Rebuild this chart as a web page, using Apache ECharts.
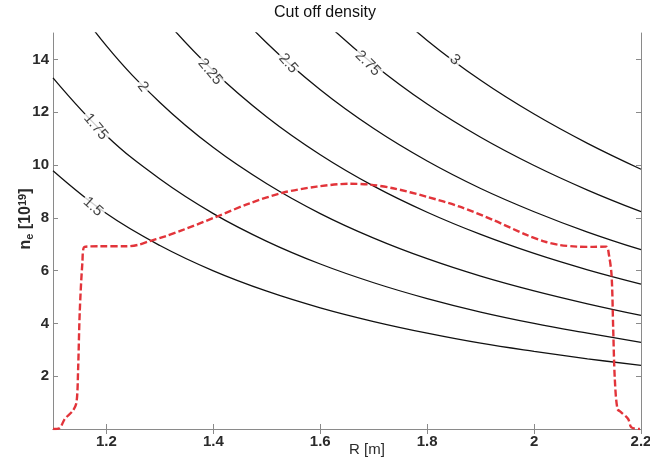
<!DOCTYPE html>
<html>
<head>
<meta charset="utf-8">
<script src="https://cdn.jsdelivr.net/npm/echarts@6/dist/echarts.min.js"></script>
<style>
  html, body { margin: 0; padding: 0; background: #fff; }
  #chart { width: 650px; height: 459px; }
</style>
</head>
<body>
<div id="chart"></div>
<script>
  // R grid [m] for the cut off curves
  var rValues = [1.1, 1.2, 1.3, 1.4, 1.5, 1.6, 1.7, 1.8, 1.9, 2.0, 2.1, 2.2];

  // cut off density curves, n_e [10^19]
  var curveLabels = ['1.5', '1.75', '2', '2.25', '2.5', '2.75', '3'];
  var curve150 = [9.78, 8.16, 6.95, 5.99, 5.22, 4.59, 4.07, 3.63, 3.25, 2.94, 2.66, 2.41];
  var curve175 = [13.3, 11.11, 9.47, 8.16, 7.11, 6.25, 5.54, 4.94, 4.43, 4.0, 3.63, 3.28];
  var curve200 = [17.27, 14.51, 12.37, 10.66, 9.29, 8.16, 7.23, 6.45, 5.79, 5.23, 4.74, 4.3];
  var curve225 = [21.98, 18.47, 15.74, 13.57, 11.82, 10.39, 9.2, 8.21, 7.37, 6.65, 6.03, 5.49];
  var curve250 = [27.19, 22.85, 19.47, 16.79, 14.62, 12.85, 11.38, 10.15, 9.11, 8.23, 7.46, 6.79];
  var curve275 = [32.98, 27.71, 23.61, 20.36, 17.73, 15.59, 13.81, 12.31, 11.05, 9.98, 9.05, 8.23];
  var curve300 = [null, null, null, null, 21.2, 18.63, 16.51, 14.72, 13.21, 11.93, 10.82, 9.84];

  // label anchor points on each curve [R, n]
  var labelR = [1.175, 1.18, 1.268, 1.394, 1.54, 1.689, 1.852];
  var labelN = [8.42, 11.45, 12.96, 13.53, 13.85, 13.85, 13.98];

  // density profile (red dashed)
  var profileR = [1.1, 1.112, 1.122, 1.137, 1.144, 1.147, 1.15, 1.155, 1.159, 1.187, 1.237, 1.26,
    1.281, 1.31, 1.343, 1.406, 1.468, 1.53, 1.593, 1.655, 1.692, 1.736, 1.799, 1.861, 1.923,
    1.986, 2.02, 2.048, 2.08, 2.11, 2.135, 2.14, 2.145, 2.148, 2.151, 2.156, 2.163, 2.176, 2.182, 2.198];
  var profileN = [0, 0.03, 0.38, 0.69, 1.01, 2.27, 4.42, 6.31, 6.9, 6.92, 6.92, 6.98,
    7.12, 7.3, 7.54, 8.04, 8.55, 8.95, 9.18, 9.29, 9.26, 9.12, 8.8, 8.42, 7.92,
    7.35, 7.1, 6.97, 6.91, 6.9, 6.91, 6.6, 5.81, 3.79, 1.89, 0.76, 0.63, 0.38, 0.06, 0];

  var xTicks = [1.2, 1.4, 1.6, 1.8, 2, 2.2];
  var yTicks = [2, 4, 6, 8, 10, 12, 14];

  var curves = [curve150, curve175, curve200, curve225, curve250, curve275, curve300];
  var labelRotate = [-42, -50, -52, -50, -48, -45, -43];

  var chart = echarts.init(document.getElementById('chart'));

  var fontName = 'Liberation Sans, Arial, sans-serif';
  var frameColor = '#8a8a8a';
  var tickFont = { color: '#2a2a2a', fontSize: 15, fontWeight: 'bold', fontFamily: fontName };

  var series = [];
  curves.forEach(function(c) {
    var pts = [];
    rValues.forEach(function(r, i) {
      if (c[i] != null) pts.push([r, c[i]]);
    });
    series.push({
      type: 'line',
      data: pts,
      smooth: 0.4,
      symbol: 'none',
      clip: true,
      lineStyle: { color: '#111', width: 1.3 },
      z: 2
    });
  });

  series.push({
    type: 'line',
    data: profileR.map(function(r, i) { return [r, profileN[i]]; }),
    symbol: 'none',
    smooth: 0.3,
    lineStyle: { color: '#e2343a', width: 2.4, type: [7, 3] },
    z: 3
  });

  series.push({
    type: 'scatter',
    symbolSize: 0,
    data: labelR.map(function(r, i) {
      return {
        value: [r, labelN[i]],
        label: { rotate: labelRotate[i], formatter: curveLabels[i] }
      };
    }),
    label: {
      show: true,
      position: 'inside',
      color: '#111',
      fontSize: 15,
      fontFamily: fontName,
      backgroundColor: '#fff',
      padding: [0, 2]
    },
    z: 4
  });

  var option = {
    animation: false,
    backgroundColor: '#fff',
    title: {
      text: 'Cut off density',
      left: 'center',
      top: 0,
      textStyle: { fontSize: 16, fontWeight: 'normal', color: '#111', fontFamily: fontName }
    },
    grid: { left: 53, right: 9, top: 33, bottom: 30, outerBoundsMode: 'none' },
    xAxis: [{
      type: 'value',
      min: 1.1,
      max: 2.2,
      name: 'R [m]',
      nameLocation: 'middle',
      nameGap: 13,
      nameMoveOverlap: false,
      nameTextStyle: { color: '#2a2a2a', fontSize: 15, padding: [0, 0, 0, 40], fontFamily: fontName },
      axisLine: { lineStyle: { color: frameColor } },
      axisTick: { inside: true, length: 5, lineStyle: { color: frameColor }, customValues: xTicks },
      axisLabel: Object.assign({ margin: 5, customValues: xTicks }, tickFont),
      splitLine: { show: false }
    }, {
      type: 'value',
      position: 'top',
      min: 1.1,
      max: 2.2,
      axisLine: { lineStyle: { color: frameColor } },
      axisTick: { inside: true, length: 5, lineStyle: { color: frameColor }, customValues: xTicks },
      axisLabel: { show: false },
      splitLine: { show: false }
    }],
    yAxis: [{
      type: 'value',
      min: 0,
      max: 15,
      name: 'n{sub|e} [10{sup|19}]',
      nameLocation: 'middle',
      nameRotate: 90,
      nameGap: 18,
      nameMoveOverlap: false,
      nameTextStyle: {
        color: '#2a2a2a', fontSize: 16, fontWeight: 'bold', padding: [0, 0, 0, 24],
        fontFamily: fontName,
        rich: {
          sub: { fontSize: 11, fontWeight: 'bold', color: '#2a2a2a', verticalAlign: 'bottom', padding: [7, 0, 0, 0], fontFamily: fontName },
          sup: { fontSize: 11, fontWeight: 'bold', color: '#2a2a2a', verticalAlign: 'top', padding: [0, 0, 7, 0], fontFamily: fontName }
        }
      },
      axisLine: { show: true, lineStyle: { color: frameColor } },
      axisTick: { inside: true, length: 5, lineStyle: { color: frameColor }, customValues: yTicks },
      axisLabel: Object.assign({ margin: 4, customValues: yTicks }, tickFont),
      splitLine: { show: false }
    }, {
      type: 'value',
      position: 'right',
      min: 0,
      max: 15,
      axisLine: { show: true, lineStyle: { color: frameColor } },
      axisTick: { inside: true, length: 5, lineStyle: { color: frameColor }, customValues: yTicks },
      axisLabel: { show: false },
      splitLine: { show: false }
    }],
    series: series
  };

  chart.setOption(option);
</script>
</body>
</html>
